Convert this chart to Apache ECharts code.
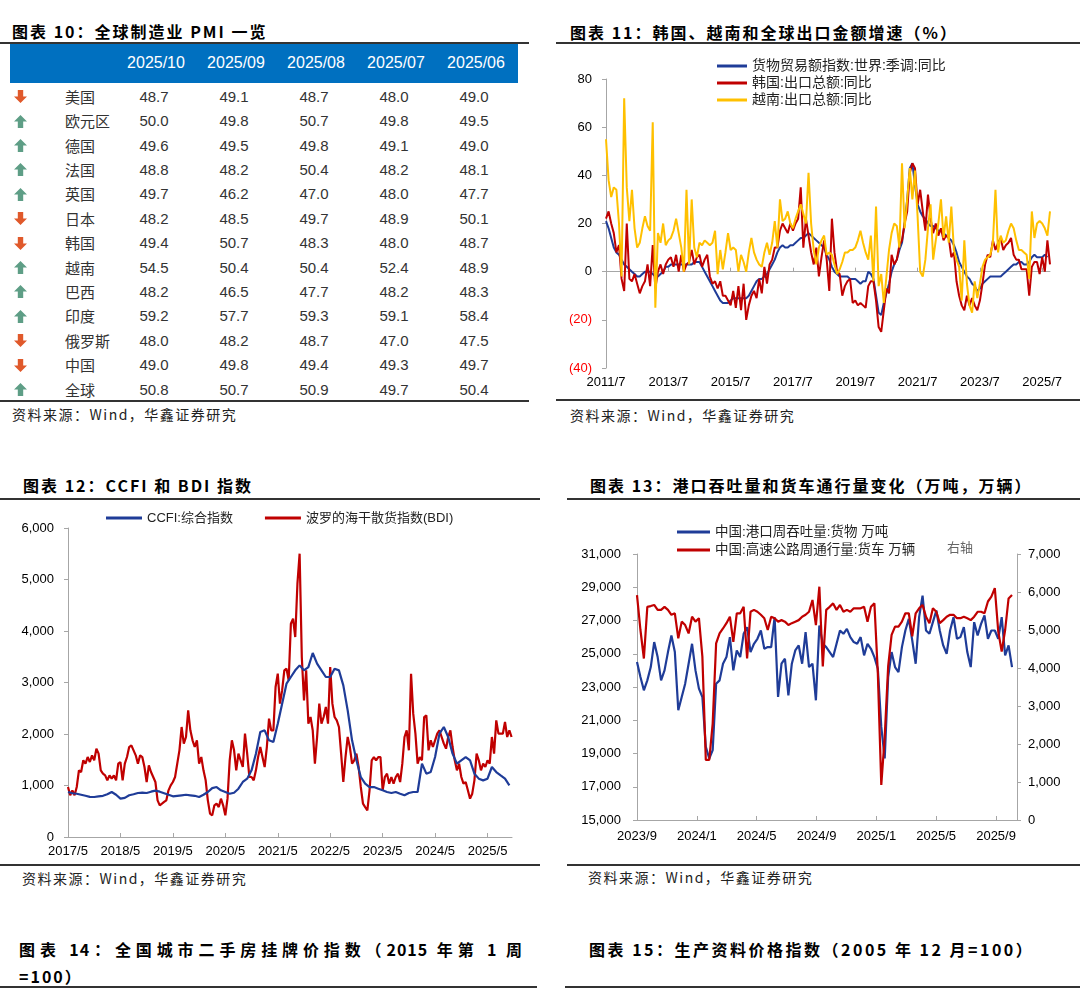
<!DOCTYPE html>
<html><head><meta charset="utf-8">
<script src="https://cdn.jsdelivr.net/npm/echarts/dist/echarts.min.js"></script>
<style>
html,body{margin:0;padding:0;background:#fff;}
body{width:1080px;height:989px;position:relative;overflow:hidden;font-family:'Liberation Sans',Arial,'Noto Sans CJK SC',sans-serif;}
.title{position:absolute;font-family:'Noto Sans CJK SC',sans-serif;font-weight:bold;font-size:16px;letter-spacing:2px;color:#000;line-height:20px;white-space:nowrap;}
.hline{position:absolute;height:2px;background:#333;}
.src{position:absolute;font-family:'Noto Sans CJK SC',sans-serif;font-size:14px;letter-spacing:1.5px;color:#222;line-height:18px;white-space:nowrap;}
.hdr{position:absolute;left:10px;top:44px;width:508px;height:39px;background:#0070C0;}
.cell{position:absolute;width:80px;text-align:center;font-size:15px;color:#333;line-height:20px;}
.hcell{position:absolute;width:80px;text-align:center;font-size:16px;color:#fff;line-height:20px;}
.name{position:absolute;left:65px;font-family:'Noto Sans CJK SC',sans-serif;font-size:15px;color:#333;line-height:20px;}
.arrow{position:absolute;left:14px;width:13px;height:13px;}
.chart{position:absolute;}
</style>
</head>
<body>
<!-- Panel 10 -->
<div class="title" style="left:12px;top:21px;">图表 10：全球制造业 PMI 一览</div>
<div class="hline" style="left:0;top:42px;width:529px;"></div>
<div class="hdr"></div>
<div id="table"></div>
<div class="hline" style="left:0;top:400px;width:529px;"></div>
<div class="src" style="left:12px;top:405px;">资料来源：Wind，华鑫证券研究</div>

<!-- Panel 11 -->
<div class="title" style="left:570px;top:22px;">图表 11：韩国、越南和全球出口金额增速（%）</div>
<div class="hline" style="left:556px;top:42px;width:524px;"></div>
<div id="c11" class="chart" style="left:555px;top:45px;width:525px;height:353px;"></div>
<div class="hline" style="left:556px;top:399px;width:524px;"></div>
<div class="src" style="left:570px;top:406px;">资料来源：Wind，华鑫证券研究</div>

<!-- Panel 12 -->
<div class="title" style="left:23px;top:475px;">图表 12：CCFI 和 BDI 指数</div>
<div class="hline" style="left:0;top:498px;width:540px;"></div>
<div id="c12" class="chart" style="left:0;top:500px;width:540px;height:364px;"></div>
<div class="hline" style="left:0;top:864px;width:540px;"></div>
<div class="src" style="left:22px;top:869px;">资料来源：Wind，华鑫证券研究</div>

<!-- Panel 13 -->
<div class="title" style="left:590px;top:475px;">图表 13：港口吞吐量和货车通行量变化（万吨，万辆）</div>
<div class="hline" style="left:567px;top:498px;width:513px;"></div>
<div id="c13" class="chart" style="left:555px;top:500px;width:525px;height:364px;"></div>
<div class="hline" style="left:567px;top:864px;width:513px;"></div>
<div class="src" style="left:588px;top:868px;">资料来源：Wind，华鑫证券研究</div>

<!-- Panel 14/15 titles -->
<div class="title" style="left:19px;top:939px;width:504px;white-space:normal;text-align:justify;text-align-last:justify;letter-spacing:1px;">图表 14：全国城市二手房挂牌价指数（2015 年第 1 周</div>
<div class="title" style="left:19px;top:966px;">=100）</div>
<div class="hline" style="left:0;top:986px;width:537px;"></div>
<div class="title" style="left:589px;top:939px;letter-spacing:2.5px;">图表 15：生产资料价格指数（2005 年 12 月=100）</div>
<div class="hline" style="left:565px;top:986px;width:515px;"></div>

<script>
// ---------- Table 10 data ----------
const pmiMonths = ['2025/10','2025/09','2025/08','2025/07','2025/06'];
const pmiCountries = ['美国','欧元区','德国','法国','英国','日本','韩国','越南','巴西','印度','俄罗斯','中国','全球'];
const pmiUS = [48.7,49.1,48.7,48.0,49.0];
const pmiEZ = [50.0,49.8,50.7,49.8,49.5];
const pmiDE = [49.6,49.5,49.8,49.1,49.0];
const pmiFR = [48.8,48.2,50.4,48.2,48.1];
const pmiUK = [49.7,46.2,47.0,48.0,47.7];
const pmiJP = [48.2,48.5,49.7,48.9,50.1];
const pmiKR = [49.4,50.7,48.3,48.0,48.7];
const pmiVN = [54.5,50.4,50.4,52.4,48.9];
const pmiBR = [48.2,46.5,47.7,48.2,48.3];
const pmiIN = [59.2,57.7,59.3,59.1,58.4];
const pmiRU = [48.0,48.2,48.7,47.0,47.5];
const pmiCN = [49.0,49.8,49.4,49.3,49.7];
const pmiWD = [50.8,50.7,50.9,49.7,50.4];
const pmiRows = [pmiUS,pmiEZ,pmiDE,pmiFR,pmiUK,pmiJP,pmiKR,pmiVN,pmiBR,pmiIN,pmiRU,pmiCN,pmiWD];

// ---------- Chart 11 data (monthly, 2011/7 - 2025/10) ----------
const exportStartYear = 2011, exportStartMonth = 7;
const worldTrade = [21,18,14,10,8,7,5,3,2,1, 0,-1,-2,-2,-1,0,0,0,-1,-2, -2,-1,0,2,2,3,3,3,3,3, 3,3,3,3,4,4,4,2,0,-2, -4,-6,-8,-10,-12,-13,-13,-13,-12,-11, -11,-11,-11,-11,-11,-10,-8,-6,-4,-3, -3,-2,-1,1,3,5,8,10,11,10, 10,11,11,12,13,14,14,15,16,15, 14,13,12,11,10,7,5,2,0,-1, -2,-2,-2,-2,-3,-3,-3,-4,-5,-4, -4,0,-1,-3,-10,-17,-18,-13,-9,-5, 0,3,5,9,12,20,30,43,45,36, 28,25,23,22,20,19,19,18,17,17, 16,15,14,13,11,8,4,2,0,-2, -3,-5,-6,-8,-7,-5,-4,-3,-2,-2, -2,-2,-2,-1,0,1,2,3,3,4, 4,3,3,4,6,7,6,6,6,7, 6,null];
const koreaExport = [22,25,20,16,8,11,-3,-8,20,-3, -4,-1,-5,-9,-6,-4,3,-6,11,-7, 0,3,-1,3,5,6,2,7,0,7, 0,3,4,9,3,6,7,2,5,7, -2,-5,-4,-7,-4,-10,-10,-12,-14,-8, -15,-6,-16,-5,-20,-14,-10,-8,-11,-3, -9,2,-5,3,5,10,10,17,20,18, 16,20,17,20,22,35,10,22,15,8, 3,10,-2,6,13,5,-8,22,8,0, -1,-10,-6,-4,-3,-13,-12,-14,-13,-14, -15,-6,-4,-4,-12,-23,-25,-16,-7,-9, 7,3,5,11,13,20,25,41,45,43, 28,34,25,17,32,22,16,20,15,18, 13,15,14,6,8,-4,-10,-14,-16,-10, -14,-11,-14,-16,-12,-5,3,7,6,13, 9,12,14,9,11,12,14,7,5,5, 1,1,1,-10,2,4,4,-1,6,0, 13,3];
const vietnamExport = [55,38,31,35,34,20,-2,72,35,21, 34,18,10,12,18,23,19,17,62,-15, 16,12,20,11,13,14,17,22,16,10, 0,34,3,30,10,6,12,11,13,12, 11,12,17,-1,9,1,8,16,9,10, 9,0,7,4,0,8,14,8,5,3, 2,8,12,7,12,21,10,30,21,22, 25,20,18,22,25,28,24,20,41,20, 9,3,10,13,15,7,8,7,3,-1, 1,4,8,8,9,9,10,13,17,12, 8,5,15,-4,27,-6,-1,-13,-2,9, 16,20,19,10,45,18,30,43,30,42, 23,0,-2,5,18,28,5,13,20,30, 14,23,12,27,9,5,2,-12,13,-5, -14,-17,-4,-11,-5,2,5,6,7,12, 34,8,15,12,13,17,20,18,13,9, 9,8,7,-3,25,14,20,21,20,18, 15,25];

// ---------- Chart 12 data (2017/5 start; CCFI monthly, BDI half-monthly) ----------
const ccfi = [874,850,840,820,800,780,777,790,800,830, 874,820,744,760,810,830,854,860,854,880, 900,880,850,820,790,800,810,820,810,800, 777,820,874,950,970,906,874,840,860,938, 1068,1133,1294,1618,2039,2071,1877,1845,2200,2589, 2977,3107,3236,3333,3236,3300,3572,3365,3236,3107, 3107,3268,3236,2945,2459,1877,1489,1165,1035,970, 970,938,906,874,854,874,840,810,854,874, 874,1424,1230,1262,1553,2006,2136,1942,1618,1424, 1489,1553,1489,1230,1133,1100,1133,1359,1262,1197, 1133,1003];
const bdi = [971,810,906,810,971,1294,1262,1489,1424,1553, 1456,1586,1489,1715,1618,1294,1230,1197,1100,1197, 1133,1197,1100,1424,1456,1100,1424,1553,1747,1780, 1683,1586,1424,1586,1553,1359,1068,1391,1262,1165, 1068,712,615,647,680,712,906,1003,1068,1165, 1424,1683,2136,1812,1942,2459,2071,1877,1747,1877, 1424,1553,1294,1100,712,453,421,615,647,582, 744,615,421,744,1489,1877,1683,1294,1618,1489, 1359,2006,1618,1165,1165,1100,1294,1553,1747,1553, 1359,1747,2298,2071,2071,2912,3171,2589,2847,3236, 3268,3042,4142,4239,3883,4919,5501,3495,2653,3236, 2200,2330,2071,1424,1942,2589,2200,2330,2524,2200, 3301,2589,2330,2265,2136,1618,1068,1553,1942,1747, 1424,1489,1618,1359,971,647,582,518,906,1489, 1553,1489,1553,1553,906,1165,1230,1035,1165,1035, 1165,1230,1068,1424,1942,2071,1683,3171,2395,2006, 1424,1553,1489,2330,2362,1683,1877,1747,1877,2006, 2071,1942,1812,1715,1942,2071,1747,1489,1294,1424, 1165,1035,1068,906,744,841,1100,1618,1489,1294, 1424,1359,1489,1424,1942,1618,2265,2006,2006,2006, 2233,1942,2071,1942];
const freightYearTicks = ['2017/5','2018/5','2019/5','2020/5','2021/5','2022/5','2023/5','2024/5','2025/5'];

// ---------- Chart 13 data (weekly from 2023/9) ----------
const portThroughput = [24500,23600,22800,23400,24200,25700,24800,23400,24000,25100, 26100,25100,21600,22400,23200,24400,25600,24000,22900,22400, 19400,18700,19200,23200,23400,24400,24800,26000,24000,25200, 24800,26200,26600,25100,25600,25900,26400,25300,25400,25400, 27200,22400,24400,24700,22500,24400,25200,25500,24400,26300, 24200,24400,22200,26700,25600,25400,25100,24800,25600,26400, 26200,26500,26000,25700,25600,26000,24900,25600,25300,24800, 24100,20600,18700,23600,25100,24200,23900,25400,26400,27100, 25800,24400,27200,28500,26400,26200,26900,27600,26400,25500, 25000,26400,27200,25900,26000,26600,25100,24200,26900,26100, 26800,27300,25900,26400,26400,25900,27200,24900,25500,24200];
const truckTraffic = [5920,5000,4250,5610,5630,5660,5530,5530,5610,5530, 5400,5440,4780,5220,5130,4910,5350,5220,5310,4300, 1580,1580,2540,4650,4910,5040,5180,5350,4690,5440, 5440,5610,4250,5480,5530,5480,5400,5310,5000,5350, 5310,5220,5260,5220,5130,5180,5220,5260,5350,5400, 5480,5790,5130,6140,4040,5530,5610,5700,5530,5660, 5480,5530,5480,5570,5570,5570,5610,5220,5610,5700, 3860,920,2190,4040,4870,5090,5090,5220,5440,5440, 4830,5440,5570,5660,5350,5180,5570,5480,5180,5260, 5350,5400,5400,5310,5310,5350,5310,5260,5350,5480, 5480,5440,5750,5880,6100,4960,4430,5000,5830,5920];
const portStartYear = 2023, portStartMonth = 9;

// ---------- Build table ----------
(function(){
  const t = document.getElementById('table');
  let html = '';
  pmiMonths.forEach((m,j)=>{ html += `<div class="hcell" style="left:${116+80*j}px;top:53px;">${m}</div>`; });
  pmiRows.forEach((row,i)=>{
    const cy = 96.7 + 24.4*i;
    const top = cy - 10;
    const up = row[0] >= row[1];
    const col = up ? '#5E9E86' : '#E0592B';
    const pts = up ? '6.5,0 13,6.5 9.2,6.5 9.2,13 3.8,13 3.8,6.5 0,6.5' : '3.8,0 9.2,0 9.2,6.5 13,6.5 6.5,13 0,6.5 3.8,6.5';
    html += `<svg class="arrow" style="top:${cy-6.5}px;" viewBox="0 0 13 13"><polygon points="${pts}" fill="${col}"/></svg>`;
    html += `<div class="name" style="top:${top}px;">${pmiCountries[i]}</div>`;
    row.forEach((v,j)=>{ html += `<div class="cell" style="left:${114+80*j}px;top:${top}px;">${v.toFixed(1)}</div>`; });
  });
  t.innerHTML = html;
})();

const FF = "'Liberation Sans', Arial, 'Noto Sans CJK SC', sans-serif";
const AX = '#a6a6a6';
const BLUE = '#1F3C98', RED = '#C00000', YEL = '#FFC000';
const fmtComma = v => Number(v).toLocaleString('en-US');

// ---------- Chart 11 ----------
const cats11 = worldTrade.map((_,i)=>{
  const t = exportStartYear*12 + (exportStartMonth-1) + i;
  return Math.floor(t/12) + '/' + (t%12+1);
});
const c11 = echarts.init(document.getElementById('c11'));
c11.setOption({
  animation:false,
  textStyle:{fontFamily:FF},
  legend:{orient:'vertical', left:157, top:9, icon:'rect', itemWidth:30, itemHeight:3, itemGap:3,
    textStyle:{fontSize:14, color:'#222', lineHeight:14, fontFamily:FF},
    data:['货物贸易额指数:世界:季调:同比','韩国:出口总额:同比','越南:出口总额:同比']},
  grid:{left:51, right:30, top:34, bottom:30},
  xAxis:[
    {type:'category', data:cats11, boundaryGap:false, axisLine:{show:false,onZero:false}, axisTick:{show:false},
     axisLabel:{interval:23, color:'#000', fontSize:13, margin:8}},
    {type:'category', data:cats11, boundaryGap:false, position:'bottom',
     axisLine:{show:true, onZero:true, lineStyle:{color:AX, width:1}},
     axisTick:{show:true, inside:true, interval:23, length:4, lineStyle:{color:AX}},
     axisLabel:{show:false}}
  ],
  yAxis:{type:'value', min:-40, max:80, interval:20,
    axisLine:{show:true, lineStyle:{color:AX}}, axisTick:{show:true, length:4, lineStyle:{color:AX}},
    splitLine:{show:false},
    axisLabel:{fontSize:13, margin:14,
      formatter: v => v < 0 ? '(' + Math.abs(v) + ')' : String(v),
      color: v => parseFloat(v) < 0 ? '#FF0000' : '#000'}},
  series:[
    {name:'货物贸易额指数:世界:季调:同比', type:'line', data:worldTrade, symbol:'none', lineStyle:{width:2, color:BLUE}, itemStyle:{color:BLUE}},
    {name:'韩国:出口总额:同比', type:'line', data:koreaExport, symbol:'none', lineStyle:{width:2, color:RED}, itemStyle:{color:RED}},
    {name:'越南:出口总额:同比', type:'line', data:vietnamExport, symbol:'none', lineStyle:{width:2, color:YEL}, itemStyle:{color:YEL}}
  ]
});

// ---------- Chart 12 ----------
const c12 = echarts.init(document.getElementById('c12'));
c12.setOption({
  animation:false,
  textStyle:{fontFamily:FF},
  legend:{left:101, top:6, icon:'rect', itemWidth:36, itemHeight:3, itemGap:32,
    textStyle:{fontSize:13, color:'#222', lineHeight:14, fontFamily:FF},
    data:['CCFI:综合指数','波罗的海干散货指数(BDI)']},
  grid:{left:68, right:28, top:28, bottom:27},
  xAxis:{type:'value', min:0, max:101.6, interval:12,
    axisLine:{show:true, lineStyle:{color:AX}},
    axisTick:{show:true, inside:true, length:4, lineStyle:{color:AX}},
    splitLine:{show:false},
    axisLabel:{fontSize:13, color:'#000', margin:8, showMaxLabel:false,
      formatter: v => freightYearTicks[Math.round(v/12)] || ''}},
  yAxis:{type:'value', min:0, max:6000, interval:1000,
    axisLine:{show:true, lineStyle:{color:AX}}, axisTick:{show:true, length:4, lineStyle:{color:AX}},
    splitLine:{show:false},
    axisLabel:{fontSize:13, color:'#000', margin:14, formatter: fmtComma}},
  series:[
    {name:'波罗的海干散货指数(BDI)', type:'line', data:bdi.map((v,i)=>[i/2, v]), symbol:'none', lineStyle:{width:2.2, color:RED}, itemStyle:{color:RED}},
    {name:'CCFI:综合指数', type:'line', data:ccfi.map((v,i)=>[i, v]), symbol:'none', lineStyle:{width:2.2, color:BLUE}, itemStyle:{color:BLUE}}
  ]
});

// ---------- Chart 13 ----------
const weekInMonths = 12/52.18;
const c13 = echarts.init(document.getElementById('c13'));
c13.setOption({
  animation:false,
  textStyle:{fontFamily:FF},
  legend:{orient:'vertical', left:117, top:20, icon:'rect', itemWidth:33, itemHeight:3, itemGap:4,
    textStyle:{fontSize:13.5, color:'#222', lineHeight:14, fontFamily:FF},
    data:['中国:港口周吞吐量:货物 万吨','中国:高速公路周通行量:货车 万辆']},
  graphic:[{type:'text', left:392, top:41, style:{text:'右轴', fontSize:13, fill:'#666', fontFamily:"'Noto Sans CJK SC', sans-serif"}}],
  grid:{left:82, right:63, top:54, bottom:44},
  xAxis:{type:'value', min:0, max:25.4, interval:4,
    axisLine:{show:true, lineStyle:{color:AX}},
    axisTick:{show:true, inside:true, length:4, lineStyle:{color:AX}},
    splitLine:{show:false},
    axisLabel:{fontSize:13, color:'#000', margin:10, showMaxLabel:false,
      formatter: v => { const t = portStartYear*12 + (portStartMonth-1) + Math.round(v); return Math.floor(t/12) + '/' + (t%12+1); }}},
  yAxis:[
    {type:'value', min:15000, max:31000, interval:2000,
     axisLine:{show:true, lineStyle:{color:AX}}, axisTick:{show:true, length:4, lineStyle:{color:AX}},
     splitLine:{show:false},
     axisLabel:{fontSize:13, color:'#000', margin:16, formatter: fmtComma}},
    {type:'value', min:0, max:7000, interval:1000, position:'right',
     axisLine:{show:true, lineStyle:{color:AX}}, axisTick:{show:true, length:4, lineStyle:{color:AX}},
     splitLine:{show:false},
     axisLabel:{fontSize:13, color:'#000', margin:11, formatter: fmtComma}}
  ],
  series:[
    {name:'中国:港口周吞吐量:货物 万吨', type:'line', yAxisIndex:0, data:portThroughput.map((v,i)=>[i*weekInMonths, v]), symbol:'none', lineStyle:{width:2.2, color:BLUE}, itemStyle:{color:BLUE}},
    {name:'中国:高速公路周通行量:货车 万辆', type:'line', yAxisIndex:1, data:truckTraffic.map((v,i)=>[i*weekInMonths, v]), symbol:'none', lineStyle:{width:2.2, color:RED}, itemStyle:{color:RED}}
  ]
});
</script>
</body></html>
